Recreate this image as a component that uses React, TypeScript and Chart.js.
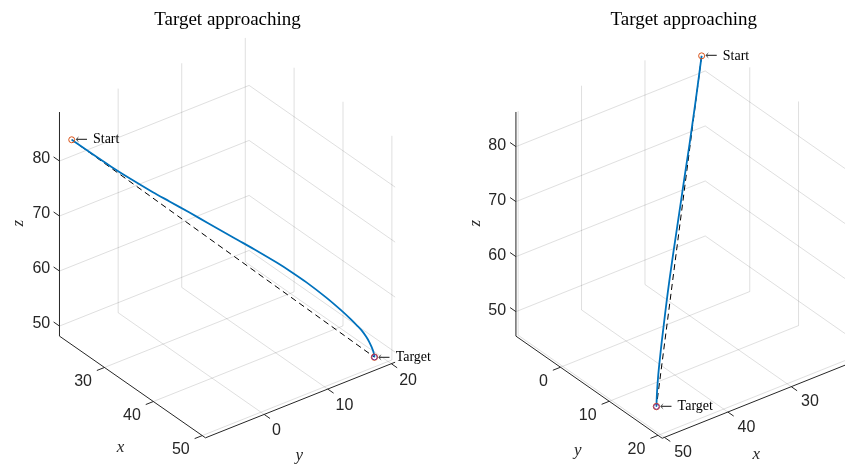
import React, { useEffect, useRef } from "react";
import { Chart, registerables } from "chart.js";

Chart.register(...registerables);

// ---- data ----
const pathX = [21.85, 23.63, 25.4, 27.18, 29.22, 30.73, 32.51, 34.28, 36.68, 38.73, 40.5, 41.66, 43.17, 44.94, 46.28, 47.16, 47.79, 48.23, 48.58, 48.85, 49.07, 49.25, 49.34];
const pathY = [-8.11, -6.4, -4.69, -2.98, -1.01, 0.44, 2.15, 3.86, 6.17, 8.14, 9.85, 10.96, 12.42, 14.13, 15.41, 16.26, 16.86, 17.29, 17.63, 17.89, 18.1, 18.28, 18.36];
const pathZ = [84.0, 81.85, 79.78, 77.84, 75.76, 74.35, 72.68, 70.97, 68.66, 66.7, 64.9, 63.63, 61.81, 59.39, 57.35, 55.87, 54.73, 53.85, 52.92, 52.05, 51.15, 50.21, 49.3];
const startPoint: V3 = [21.85, -8.11, 84.0];
const targetPoint: V3 = [49.34, 18.36, 49.3];
const xTicks = [30, 40, 50];
const yTicks = [0, 10, 20];
const zTicks = [50, 60, 70, 80];
const titleText = "Target approaching";
const startLabel = "Start";
const targetLabel = "Target";

type V3 = [number, number, number];
type P2 = [number, number];

interface View {
  kind: "left" | "right";
  left: number;
  width: number;
  origin: P2; // page pixel of the (corner, zmin) point
  corner: P2; // data x,y of that corner
  ex: P2;
  ey: P2;
  ez: P2;
  xlim: P2;
  ylim: P2;
  zlim: P2;
  titleX: number;
  zLab: { dx: number; dy: number };
  aLab: { dx: number; dy: number; align: CanvasTextAlign };
  bLab: { dx: number; dy: number; align: CanvasTextAlign };
  xName: P2;
  yName: P2;
  zName: P2;
}

const H = 472;

const views: View[] = [
  {
    kind: "left",
    left: 0,
    width: 455,
    origin: [55.7, 338.3],
    corner: [20.8, -9.23],
    ex: [5.0, 3.479],
    ey: [6.5, -2.59],
    ez: [0, -5.62],
    xlim: [20.8, 50.66],
    ylim: [-9.23, 20.6],
    zlim: [48.17, 88.91],
    titleX: 227.5,
    zLab: { dx: -9.5, dy: -2.5 },
    aLab: { dx: -12.8, dy: 14.6, align: "right" },
    bLab: { dx: 8, dy: 17, align: "left" },
    xName: [118, 452],
    yName: [301, 460],
    zName: [14, 223],
  },
  {
    kind: "right",
    left: 440,
    width: 410,
    origin: [512.7, 338.3],
    corner: [50.35, -9.13],
    ex: [-6.5, 2.59],
    ey: [5.0, 3.479],
    ez: [0, -5.62],
    xlim: [20.5, 50.35],
    ylim: [-9.13, 20.86],
    zlim: [45.55, 86.3],
    titleX: 684.7,
    zLab: { dx: -10, dy: -1.5 },
    aLab: { dx: -13, dy: 14.5, align: "right" },
    bLab: { dx: 10, dy: 15.5, align: "left" },
    xName: [759, 459],
    yName: [576, 455],
    zName: [471, 223],
  },
];

function project(v: View, p: V3): { x: number; y: number } {
  const dx = p[0] - v.corner[0];
  const dy = p[1] - v.corner[1];
  const dz = p[2] - v.zlim[0];
  return {
    x: v.origin[0] - v.left + dx * v.ex[0] + dy * v.ey[0] + dz * v.ez[0],
    y: v.origin[1] + dx * v.ex[1] + dy * v.ey[1] + dz * v.ez[1],
  };
}

interface TextItem {
  text: string;
  x: number;
  y: number;
  font: string;
  color: string;
  align: CanvasTextAlign;
  baseline: CanvasTextBaseline;
  rotate?: number;
}

const GRID = "rgba(38,38,38,0.15)";
const AXIS = "#262626";
const BLUE = "#0072BD";
const ORANGE = "#D95319";
const PURPLE = "#7E2F8E";
const TICK_FONT = '16px "Liberation Sans", Arial, Helvetica, sans-serif';
const NAME_FONT = 'italic 17px "Liberation Serif", "Times New Roman", serif';
const TITLE_FONT = '19px "Liberation Serif", "Times New Roman", serif';
const NOTE_FONT = '14px "Liberation Serif", "Times New Roman", serif';
const ARROW_FONT = '15px "DejaVu Serif", serif';

function Panel({ view }: { view: View }) {
  const ref = useRef<HTMLCanvasElement | null>(null);

  useEffect(() => {
    const canvas = ref.current;
    if (!canvas) return;
    const v = view;
    const P = (p: V3) => project(v, p);
    const [x0, x1] = v.xlim;
    const [y0, y1] = v.ylim;
    const [z0, z1] = v.zlim;
    const L = 1.2;

    const datasets: any[] = [];
    const seg = (a: V3, b: V3, color: string, width: number, order: number) =>
      datasets.push({
        data: [P(a), P(b)],
        showLine: true,
        borderColor: color,
        borderWidth: width,
        pointRadius: 0,
        order,
        fill: false,
      });

    // gridlines on back walls and floor
    const wallY = v.kind === "left" ? y1 : y0;
    for (const y of yTicks) seg([x0, y, z0], [x0, y, z1], GRID, 1, 10);
    for (const z of zTicks) seg([x0, y0, z], [x0, y1, z], GRID, 1, 10);
    for (const x of xTicks) seg([x, wallY, z0], [x, wallY, z1], GRID, 1, 10);
    for (const z of zTicks) seg([x0, wallY, z], [x1, wallY, z], GRID, 1, 10);
    for (const x of xTicks) seg([x, y0, z0], [x, y1, z0], GRID, 1, 10);
    for (const y of yTicks) seg([x0, y, z0], [x1, y, z0], GRID, 1, 10);

    const texts: TextItem[] = [];
    const tickText = (p: V3, dx: number, dy: number, align: CanvasTextAlign, s: string) => {
      const q = P(p);
      texts.push({ text: s, x: q.x + dx, y: q.y + dy, font: TICK_FONT, color: AXIS, align, baseline: "middle" });
    };

    if (v.kind === "left") {
      seg([x0, y0, z0], [x0, y0, z1], AXIS, 1, 5);
      seg([x0, y0, z0], [x1, y0, z0], AXIS, 1, 5);
      seg([x1, y0, z0], [x1, y1, z0], AXIS, 1, 5);
      for (const z of zTicks) {
        seg([x0, y0, z], [x0 - L, y0, z], AXIS, 1, 5);
        tickText([x0, y0, z], v.zLab.dx, v.zLab.dy, "right", String(z));
      }
      for (const x of xTicks) {
        seg([x, y0, z0], [x, y0 - L, z0], AXIS, 1, 5);
        tickText([x, y0, z0], v.aLab.dx, v.aLab.dy, v.aLab.align, String(x));
      }
      for (const y of yTicks) {
        seg([x1, y, z0], [x1 + L, y, z0], AXIS, 1, 5);
        tickText([x1, y, z0], v.bLab.dx, v.bLab.dy, v.bLab.align, String(y));
      }
    } else {
      seg([x1, y0, z0], [x1, y0, z1], AXIS, 1, 5);
      seg([x1, y0, z0], [x1, y1, z0], AXIS, 1, 5);
      seg([x1, y1, z0], [x0, y1, z0], AXIS, 1, 5);
      for (const z of zTicks) {
        seg([x1, y0, z], [x1, y0 - L, z], AXIS, 1, 5);
        tickText([x1, y0, z], v.zLab.dx, v.zLab.dy, "right", String(z));
      }
      for (const y of yTicks) {
        seg([x1, y, z0], [x1 + L, y, z0], AXIS, 1, 5);
        tickText([x1, y, z0], v.aLab.dx, v.aLab.dy, v.aLab.align, String(y));
      }
      for (const x of xTicks) {
        seg([x, y1, z0], [x, y1 + L, z0], AXIS, 1, 5);
        tickText([x, y1, z0], v.bLab.dx, v.bLab.dy, v.bLab.align, String(x));
      }
    }

    // straight reference line (dashed)
    datasets.push({
      data: [P(startPoint), P(targetPoint)],
      showLine: true,
      borderColor: "#000000",
      borderWidth: 1,
      borderDash: [6, 4],
      pointRadius: 0,
      order: 3,
    });
    // trajectory
    datasets.push({
      data: pathX.map((x, i) => P([x, pathY[i], pathZ[i]])),
      showLine: true,
      borderColor: BLUE,
      borderWidth: 1.8,
      tension: 0.3,
      pointRadius: 0,
      order: 2,
    });
    // markers
    datasets.push({
      data: [P(startPoint)],
      pointRadius: 3,
      pointBorderWidth: 1,
      pointBorderColor: ORANGE,
      pointBackgroundColor: "rgba(0,0,0,0)",
      order: 1,
    });
    datasets.push({
      data: [P(targetPoint)],
      pointRadius: 3.2,
      pointBorderWidth: 1,
      pointBorderColor: ORANGE,
      pointBackgroundColor: "rgba(0,0,0,0)",
      order: 1,
    });
    datasets.push({
      data: [P(targetPoint)],
      pointRadius: 2.7,
      pointBorderWidth: 1,
      pointBorderColor: PURPLE,
      pointBackgroundColor: "rgba(0,0,0,0)",
      order: 0,
    });

    // annotations
    const note = (p: V3, s: string) => {
      const q = P(p);
      texts.push({ text: "\u2190", x: q.x + 3.5, y: q.y + 0.5, font: ARROW_FONT, color: "#444444", align: "left", baseline: "middle" });
      texts.push({ text: s, x: q.x + 21.7, y: q.y, font: NOTE_FONT, color: "#000000", align: "left", baseline: "middle" });
    };
    note(startPoint, startLabel);
    note(targetPoint, targetLabel);

    // axis names and title
    texts.push({ text: "x", x: v.xName[0] - v.left, y: v.xName[1], font: NAME_FONT, color: AXIS, align: "center", baseline: "middle" });
    texts.push({ text: "y", x: v.yName[0] - v.left, y: v.yName[1], font: NAME_FONT, color: AXIS, align: "center", baseline: "middle" });
    texts.push({ text: "z", x: v.zName[0] - v.left, y: v.zName[1], font: NAME_FONT, color: AXIS, align: "center", baseline: "middle", rotate: -Math.PI / 2 });
    texts.push({ text: titleText, x: v.titleX - v.left, y: 20.5, font: TITLE_FONT, color: "#000000", align: "center", baseline: "alphabetic" });

    const textPlugin = {
      id: "texts3d",
      afterDraw(chart: any) {
        const ctx: CanvasRenderingContext2D = chart.ctx;
        const sx = chart.scales.x;
        const sy = chart.scales.y;
        ctx.save();
        for (const t of texts) {
          const px = sx.getPixelForValue(t.x);
          const py = sy.getPixelForValue(t.y);
          ctx.save();
          ctx.font = t.font;
          ctx.fillStyle = t.color;
          ctx.textAlign = t.align;
          ctx.textBaseline = t.baseline;
          ctx.translate(px, py);
          if (t.rotate) ctx.rotate(t.rotate);
          ctx.fillText(t.text, 0, 0);
          ctx.restore();
        }
        ctx.restore();
      },
    };

    const chart = new Chart(canvas, {
      type: "scatter",
      data: { datasets },
      options: {
        animation: false,
        responsive: false,
        devicePixelRatio: 1,
        events: [],
        layout: { padding: 0 },
        plugins: { legend: { display: false }, tooltip: { enabled: false }, title: { display: false } },
        scales: {
          x: { type: "linear", min: 0, max: v.width, bounds: "data", display: false },
          y: { type: "linear", min: 0, max: H, reverse: true, bounds: "data", display: false },
        },
      },
      plugins: [textPlugin],
    } as any);
    return () => chart.destroy();
  }, [view]);

  return (
    <canvas
      ref={ref}
      width={view.width}
      height={H}
      style={{ position: "absolute", left: view.left, top: 0, width: view.width, height: H }}
    />
  );
}

export default function App() {
  return (
    <div style={{ position: "absolute", left: 0, top: 0, width: 850, height: H, background: "#ffffff", overflow: "hidden" }}>
      {views.map((v) => (
        <Panel key={v.kind} view={v} />
      ))}
    </div>
  );
}
